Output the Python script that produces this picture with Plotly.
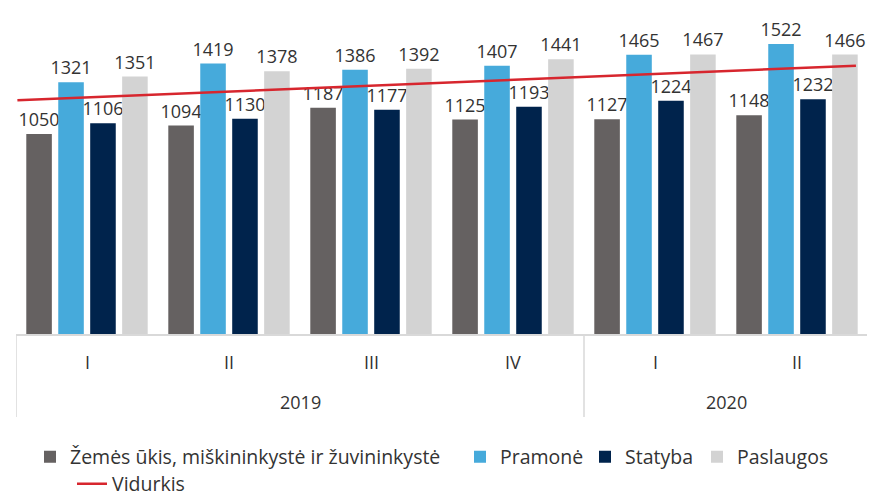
import plotly.graph_objects as go

quarters = ["I", "II", "III", "IV", "I", "II"]
years = ["2019", "2019", "2019", "2019", "2020", "2020"]

zemes_ukis = [1050, 1094, 1187, 1125, 1127, 1148]
pramone = [1321, 1419, 1386, 1407, 1465, 1522]
statyba = [1106, 1130, 1177, 1193, 1224, 1232]
paslaugos = [1351, 1378, 1392, 1441, 1467, 1466]

# trend line ("Vidurkis") endpoints, in category units
vidurkis_x = [-0.49, 5.415]
vidurkis_y = [1226, 1408]

series = [
    ("Žemės ūkis, miškininkystė ir žuvininkystė", zemes_ukis, "#656161"),
    ("Pramonė", pramone, "#46AADB"),
    ("Statyba", statyba, "#00234C"),
    ("Paslaugos", paslaugos, "#D3D3D3"),
]

FONT = "'Open Sans', 'Noto Sans', sans-serif"
TEXT_COLOR = "#333333"
GRID = "#D9D9D9"

# page body has an 8px margin, so the figure is drawn 8px smaller and
# all pixel positions below are relative to the figure's own corner
W, H = 867, 484
PLOT_L, PLOT_R, PLOT_T, PLOT_B = 8, 860, 2, 326
PW, PH = PLOT_R - PLOT_L, PLOT_B - PLOT_T


def px_x(p):
    return (p - PLOT_L) / PW


def px_y(p):
    return (PLOT_B - p) / PH


pos = list(range(len(quarters)))
legend_ids = ["legend", "legend2", "legend3", "legend4"]

fig = go.Figure()
for (name, vals, color), lg in zip(series, legend_ids):
    fig.add_trace(
        go.Bar(
            x=pos,
            y=vals,
            name=name,
            legend=lg,
            showlegend=True,
            marker=dict(color=color, line=dict(width=0)),
            text=[str(v) for v in vals],
            textposition="outside",
            constraintext="none",
            textfont=dict(size=18, color=TEXT_COLOR, family=FONT),
            cliponaxis=False,
        )
    )

fig.add_trace(
    go.Scatter(
        x=vidurkis_x,
        y=vidurkis_y,
        mode="lines",
        name="Vidurkis",
        legend="legend5",
        showlegend=True,
        line=dict(color="#D7262E", width=2.5),
    )
)

# multi-level category axis drawn by hand (Excel style)
y_bottom = px_y(409)
shapes = []
for xv in [-0.5, 3.5, 5.5]:
    shapes.append(
        dict(type="line", xref="x", yref="paper", x0=xv, x1=xv, y0=0, y1=y_bottom,
             line=dict(color=GRID, width=1.5))
    )

annotations = []
for i, q in enumerate(quarters):
    annotations.append(
        dict(x=i, y=px_y(354), xref="x", yref="paper", text=q, showarrow=False,
             yanchor="middle", font=dict(size=18, color=TEXT_COLOR, family=FONT))
    )
year_groups = {}
for i, yr in enumerate(years):
    year_groups.setdefault(yr, []).append(i)
for yr, idx in year_groups.items():
    annotations.append(
        dict(x=(idx[0] + idx[-1]) / 2, y=px_y(394), xref="x", yref="paper", text=yr,
             showarrow=False, yanchor="middle",
             font=dict(size=18, color=TEXT_COLOR, family=FONT))
    )


def legend_box(xp, yp):
    return dict(
        orientation="h",
        x=px_x(xp),
        xanchor="left",
        y=px_y(yp),
        yanchor="middle",
        font=dict(size=19.5, color=TEXT_COLOR, family=FONT),
        itemwidth=30,
        bgcolor="rgba(0,0,0,0)",
        borderwidth=0,
    )


fig.update_layout(
    width=W,
    height=H,
    margin=dict(l=PLOT_L, r=W - PLOT_R, t=PLOT_T, b=H - PLOT_B, autoexpand=False),
    plot_bgcolor="white",
    paper_bgcolor="white",
    barmode="group",
    bargap=0.1,
    bargroupgap=0.2,
    showlegend=True,
    font=dict(family=FONT, size=18, color=TEXT_COLOR),
    xaxis=dict(
        range=[-0.5, 5.5],
        showticklabels=False,
        showgrid=False,
        zeroline=False,
        showline=True,
        linecolor=GRID,
        linewidth=1.5,
        ticks="",
    ),
    yaxis=dict(range=[0, 1700], visible=False),
    legend=legend_box(22, 449),
    legend2=legend_box(452, 449),
    legend3=legend_box(577, 449),
    legend4=legend_box(689, 449),
    legend5=legend_box(64, 476),
    shapes=shapes,
    annotations=annotations,
)

fig.write_html("out.html")
